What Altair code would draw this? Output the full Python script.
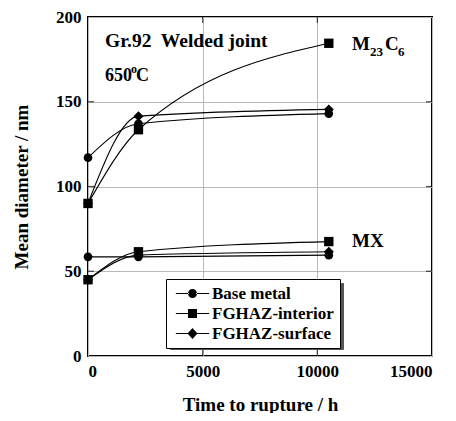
import altair as alt
import pandas as pd

# ---- data ----
times = [0, 2200, 10500]
series_names = ["Base metal", "FGHAZ-interior", "FGHAZ-surface"]
m23c6_base = [117, 137, 143]
m23c6_interior = [90, 133.5, 184.5]
m23c6_surface = [90, 141.5, 145.5]
mx_base = [58.5, 58.5, 59.5]
mx_interior = [45, 61.5, 67.5]
mx_surface = [45, 59.5, 61.5]

x_ticks = [0, 5000, 10000, 15000]
y_ticks = [0, 50, 100, 150, 200]
x_domain = [0, 15000]
y_domain = [0, 200]

FONT = "Liberation Serif"

rows = []
for phase, vals in [("M23C6", [m23c6_base, m23c6_interior, m23c6_surface]),
                    ("MX", [mx_base, mx_interior, mx_surface])]:
    for name, ys in zip(series_names, vals):
        for t, v in zip(times, ys):
            rows.append({"time": t, "diam": v, "series": name,
                         "curve": phase + "-" + name})
df = pd.DataFrame(rows)

xs = alt.Scale(domain=x_domain, nice=False)
ys_ = alt.Scale(domain=y_domain, nice=False)

xax = alt.Axis(values=x_ticks, format="d", title="Time to rupture / h",
               grid=True, gridColor="#b8b8b8", ticks=False, domain=False,
               labelPadding=7, titlePadding=16)
yax = alt.Axis(values=y_ticks, title="Mean diameter / nm",
               grid=True, gridColor="#b8b8b8", ticks=False, domain=False,
               labelPadding=7, titlePadding=24)

base = alt.Chart(df)

lines = base.mark_line(interpolate="monotone", color="black", strokeWidth=1.1).encode(
    x=alt.X("time:Q", scale=xs, axis=xax),
    y=alt.Y("diam:Q", scale=ys_, axis=yax),
    detail="curve:N",
    order="time:Q",
)

points = base.mark_point(filled=True, color="black", opacity=1).encode(
    x=alt.X("time:Q", scale=xs),
    y=alt.Y("diam:Q", scale=ys_),
    shape=alt.Shape("series:N", scale=alt.Scale(domain=series_names,
                    range=["circle", "square", "diamond"]), legend=None),
    size=alt.Size("series:N", scale=alt.Scale(domain=series_names,
                  range=[75, 100, 125]), legend=None),
)

# legend-only layers (no marks drawn): symbols are line + marker paths (all filled)
seg = "M-3.7,-0.12H-0.8V0.12H-3.7ZM0.8,-0.12H3.7V0.12H0.8Z"
sym_paths = [
    seg + "M-1,0A1,1 0 1,0 1,0A1,1 0 1,0 -1,0Z",
    seg + "M-1,-1H1V1H-1Z",
    seg + "M0,-1.2L1.1,0L0,1.2L-1.1,0Z",
]
LX, LY = 78, 262
main_leg = dict(title=None, orient="none", padding=6, rowPadding=2,
                symbolSize=81, symbolOffset=12, labelOffset=11,
                labelFont=FONT, labelFontWeight="bold", labelFontSize=17)

# shadow box: an empty-label legend sized like the main one, drawn offset
shadow_layer = base.transform_calculate(shadow="datum.series").transform_filter("false").mark_point(
    opacity=0
).encode(
    x=alt.X("time:Q", scale=xs),
    y=alt.Y("diam:Q", scale=ys_),
    color=alt.Color("shadow:N", scale=alt.Scale(domain=series_names,
                    range=["#555555", "#555555", "#555555"]),
                    legend=alt.Legend(title=None, orient="none",
                                      legendX=LX + 4, legendY=LY + 4,
                                      fillColor="#555555", strokeColor="#555555",
                                      padding=6, rowPadding=12,
                                      symbolSize=81, symbolOffset=0, labelOffset=150,
                                      symbolType="square", symbolOpacity=0,
                                      labelFontSize=1, labelExpr="''")),
)

legend_layer = base.transform_filter("false").mark_point(
    filled=True, color="black", opacity=1
).encode(
    x=alt.X("time:Q", scale=xs),
    y=alt.Y("diam:Q", scale=ys_),
    shape=alt.Shape("series:N", scale=alt.Scale(domain=series_names, range=sym_paths),
                    legend=alt.Legend(legendX=LX, legendY=LY,
                                      fillColor="white", strokeColor="black",
                                      symbolFillColor="black", labelColor="black",
                                      **main_leg)),
)

# inward ticks (clipped so only the inner half shows)
tick_rows_y = [{"x": xv, "y": v} for xv in x_domain for v in y_ticks[1:-1]]
tick_rows_x = [{"x": v, "y": yv} for yv in y_domain for v in x_ticks[1:-1]]
yticks = alt.Chart(pd.DataFrame(tick_rows_y)).mark_tick(
    orient="horizontal", size=12, thickness=1.2, color="black", clip=True
).encode(x=alt.X("x:Q", scale=xs), y=alt.Y("y:Q", scale=ys_))
xticks = alt.Chart(pd.DataFrame(tick_rows_x)).mark_tick(
    orient="vertical", size=12, thickness=1.2, color="black", clip=True
).encode(x=alt.X("x:Q", scale=xs), y=alt.Y("y:Q", scale=ys_))

# annotations (anchor positions in data units)
title_text = ["Gr.92\u00a0 Welded joint"]
title_x = [741]
title_y = [182.5]
temp_x = [741]
temp_y = [162.4]
phase_x = [11512, 11512]
phase_y = [180.4, 64.3]

def txt(text, x, y, size, dx=0, dy=0):
    d = pd.DataFrame({"t": [text], "x": [x], "y": [y]})
    return alt.Chart(d).mark_text(font=FONT, fontWeight="bold", fontSize=size,
                                  align="left", baseline="alphabetic",
                                  dx=dx, dy=dy, color="black").encode(
        x=alt.X("x:Q", scale=xs), y=alt.Y("y:Q", scale=ys_), text="t:N")

ann = [
    txt(title_text[0], title_x[0], title_y[0], 19.5),
    txt("650", temp_x[0], temp_y[0], 18),
    txt("o", temp_x[0], temp_y[0], 12, dx=26, dy=-8),
    txt("C", temp_x[0], temp_y[0], 18, dx=31),
    txt("M", phase_x[0], phase_y[0], 19),
    txt("23", phase_x[0], phase_y[0], 13, dx=18, dy=6),
    txt("C", phase_x[0], phase_y[0], 19, dx=33),
    txt("6", phase_x[0], phase_y[0], 13, dx=46, dy=6),
    txt("MX", phase_x[1], phase_y[1], 19),
]

chart = alt.layer(lines, points, shadow_layer, legend_layer, yticks, xticks, *ann).resolve_scale(
    shape="independent", size="independent"
).properties(
    width=344, height=339,
    autosize=alt.AutoSizeParams(type="none"),
    padding={"top": 9, "left": 80, "right": 16, "bottom": 57},
).configure_view(stroke="black", strokeWidth=2).configure_axis(
    labelFont=FONT, labelFontWeight="bold", labelFontSize=17, labelColor="black",
    titleFont=FONT, titleFontWeight="bold", titleFontSize=19, titleColor="black",
)

chart.save("out.html", embed_options={"renderer": "svg", "actions": False})
